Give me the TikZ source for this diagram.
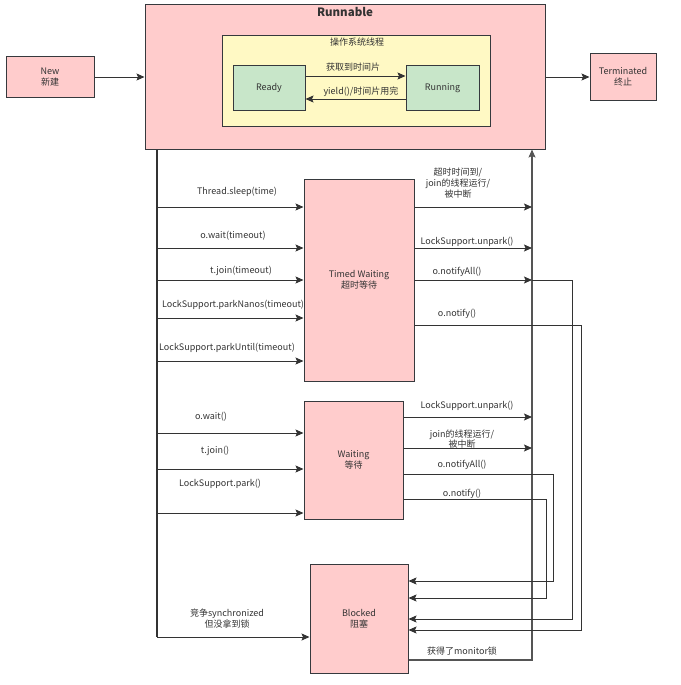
\documentclass[tikz,border=0pt]{standalone}
\usepackage{fontspec}
\setmainfont{Noto Sans CJK SC}
\usetikzlibrary{arrows.meta}
\definecolor{edge}{HTML}{36393D}
\definecolor{pinkf}{HTML}{FFCCCC}
\definecolor{yellowf}{HTML}{FFF9C4}
\definecolor{greenf}{HTML}{C8E6C9}
\definecolor{txt}{HTML}{333333}
\definecolor{wire}{HTML}{333333}
\definecolor{bus}{HTML}{555555}
\newcommand\lblfont{\fontsize{9pt}{11pt}\selectfont}
\begin{document}
\begin{tikzpicture}[x=1pt,y=-1pt,
  box/.style={draw=edge, line width=1pt, fill=pinkf, inner sep=0pt, align=center, text=txt, font=\lblfont},
  lbl/.style={inner sep=0pt, align=center, text=txt, font=\lblfont},
  wireline/.style={draw=wire, line width=1pt},
  arr/.style={wireline, -{Stealth[length=8pt,width=7pt,inset=1.5pt]}},
  busline/.style={draw=wire, line width=1.8pt}
]
\useasboundingbox (0,0) rectangle (680,685);

% boxes
\node[box, minimum width=400pt, minimum height=144pt] (runnable) at (345,77) {};
\node[lbl, font=\fontsize{11.5pt}{13pt}\selectfont\bfseries] (rtitle) at (345,12) {Runnable};
\node[box, fill=yellowf, minimum width=268pt, minimum height=90pt] (os) at (356,81) {};
\node[lbl] (ostitle) at (357,42) {操作系统线程};
\node[box, fill=greenf, minimum width=72pt, minimum height=44pt] (ready) at (269,88) {Ready};
\node[box, fill=greenf, minimum width=73pt, minimum height=44pt] (running) at (442.5,88) {Running};
\node[box, minimum width=88pt, minimum height=40pt] (new) at (50,77) {New\\新建};
\node[box, minimum width=66pt, minimum height=46pt] (term) at (623,77) {Terminated\\终止};
\node[box, minimum width=110pt, minimum height=202pt] (tw) at (359,280) {Timed Waiting\\超时等待};
\node[box, minimum width=99pt, minimum height=118pt] (wt) at (353.5,460) {Waiting\\等待};
\node[box, minimum width=98pt, minimum height=109pt] (bl) at (359,618.5) {Blocked\\阻塞};

% top connectors
\draw[arr] (new.east) -- (new -| runnable.west);
\draw[arr] (runnable.east |- term) -- (term.west);
\draw[arr] (ready.east |- 0,76) -- (running.west |- 0,76);
\node[lbl] (lgain) at (353,67) {获取到时间片};
\draw[arr] (running.west |- 0,99) -- (ready.east |- 0,99);
\node[lbl] (lyield) at (361,92) {yield()/时间片用完};

% left bus
\coordinate (lb) at (157,637);
\draw[busline] (runnable.south -| lb) -- (lb);
\draw[arr] (lb) -- (lb -| bl.west);
\node[lbl] (lsync) at (227,618.5) {竞争synchronized\\但没拿到锁};

% into Timed Waiting
\foreach \yy/\nm in {207/a1,248/a2,280/a3,318/a4,361/a5}{
  \coordinate (\nm) at (157,\yy);
  \draw[arr] (\nm) -- (\nm -| tw.west);
}
\node[lbl] (lsleep) at (237,192) {Thread.sleep(time)};
\node[lbl] (lwaitt) at (233,236) {o.wait(timeout)};
\node[lbl] (ljoint) at (241,271) {t.join(timeout)};
\node[lbl] (lnanos) at (233,305) {LockSupport.parkNanos(timeout)};
\node[lbl] (luntil) at (227,348) {LockSupport.parkUntil(timeout)};

% into Waiting
\foreach \yy/\nm in {433/b1,469/b2,513/b3}{
  \coordinate (\nm) at (157,\yy);
  \draw[arr] (\nm) -- (\nm -| wt.west);
}
\node[lbl] (lwait) at (211,417) {o.wait()};
\node[lbl] (ljoin) at (215,451) {t.join()};
\node[lbl] (lpark) at (220,484) {LockSupport.park()};

% right bus
\coordinate (rb) at (532,660);
\draw[arr, draw=bus, line width=1.3pt] (bl.east |- rb) -- (rb) -- (rb |- runnable.south);
\node[lbl] (lmon) at (462,651) {获得了monitor锁};

% out of Timed Waiting
\draw[arr] (tw.east |- 0,207) -- (rb |- 0,207);
\node[lbl] (ltimeout) at (458,183) {超时时间到/\\join的线程运行/\\被中断};
\draw[arr] (tw.east |- 0,248) -- (rb |- 0,248);
\node[lbl] (lunpark1) at (467,242) {LockSupport.unpark()};
\draw[arr] (tw.east |- 0,280) -- (rb |- 0,280);
\node[lbl] (lnall1) at (457,272) {o.notifyAll()};
\draw[arr] (rb |- 0,280) -- (572,280) -- (572,619) -- (bl.east |- 0,619);
\draw[arr] (tw.east |- 0,325) -- (581,325) -- (581,630) -- (bl.east |- 0,630);
\node[lbl] (lnot1) at (457,314) {o.notify()};

% out of Waiting
\draw[arr] (wt.east |- 0,417) -- (rb |- 0,417);
\node[lbl] (lunpark2) at (467,406) {LockSupport.unpark()};
\draw[arr] (wt.east |- 0,448) -- (rb |- 0,448);
\node[lbl, font=\fontsize{9pt}{9pt}\selectfont] (ljoin2) at (462,439) {join的线程运行/\\被中断};
\draw[arr] (wt.east |- 0,474) -- (553,474) -- (553,581) -- (bl.east |- 0,581);
\node[lbl] (lnall2) at (462,465) {o.notifyAll()};
\draw[arr] (wt.east |- 0,499) -- (546,499) -- (546,598) -- (bl.east |- 0,598);
\node[lbl] (lnot2) at (462,494) {o.notify()};
\end{tikzpicture}
\end{document}
